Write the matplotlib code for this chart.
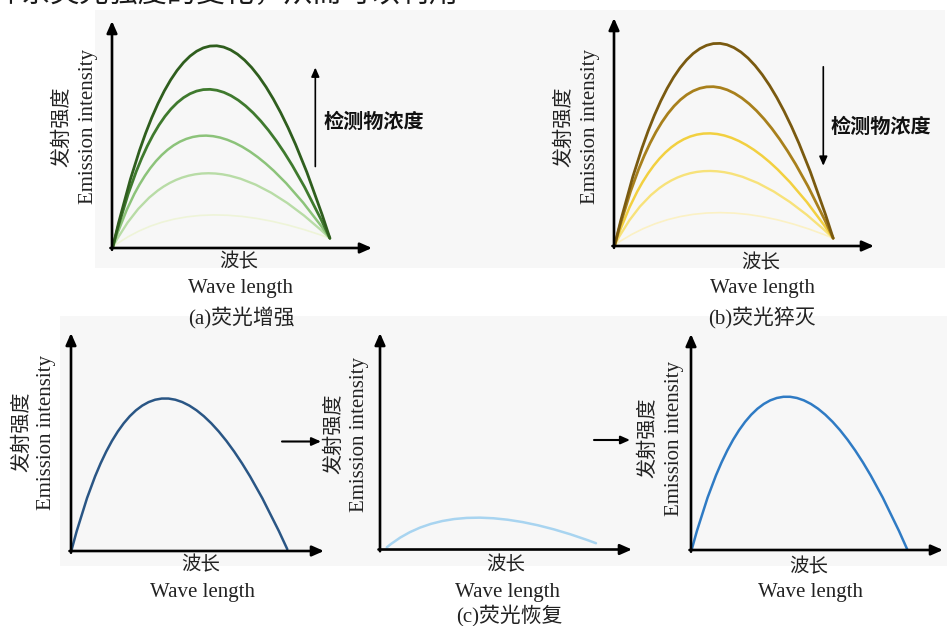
import matplotlib
matplotlib.use("Agg")
import matplotlib.pyplot as plt
from matplotlib.path import Path
from matplotlib.patches import PathPatch, Rectangle, FancyArrowPatch

# ---------------- data (normalised wavelength 0-100, intensity 0-100) ----------------
enh_peak_x = [39.0, 36.4, 34.9, 35.8, 36.4]
enh_peak_y = [89.1, 69.9, 49.5, 32.9, 14.5]
enh_start = (0.3, 0.5)
enh_end = (83.8, 4.3)

que_peak_x = [39.5, 36.9, 35.7, 35.7, 38.2]
que_peak_y = [88.9, 69.9, 49.4, 32.9, 14.6]
que_start = (0.3, 0.5)
que_end = (84.3, 3.4)

rec_peak_x = [37.2, 37.0, 38.0]
rec_peak_y = [70.0, 14.7, 71.0]
rec_start_x = [0.3, 2.7, 0.3]
rec_start_y = [0.8, 1.0, 0.3]
rec_end_x = [85.5, 85.7, 85.8]
rec_end_y = [0.8, 2.9, 0.3]

ylabel_cn = "发射强度"
ylabel_en = "Emission intensity"
xlabel_cn = "波长"
xlabel_en = "Wave length"
conc_label = "检测物浓度"
captions = ["(a)荧光增强", "(b)荧光猝灭", "(c)荧光恢复"]
top_text = "体系荧光强度的变化，从而可以利用"

# ---------------- styles ----------------
enh_colors = ["#2f5e1e", "#3f7a2e", "#8cc37a", "#b8dca6", "#eef4d8"]
que_colors = ["#7a5a10", "#a8801c", "#f2d040", "#f7e27a", "#fbf1c4"]
rec_colors = ["#2a5685", "#a8d4f0", "#2f7bc4"]
enh_lw = [2.0, 2.0, 1.8, 1.7, 1.2]

W, H = 947, 626
fig = plt.figure(figsize=(W / 100, H / 100), dpi=100)
fig.patch.set_facecolor("white")

SERIF = ["Liberation Serif", "Noto Sans CJK SC", "DejaVu Serif"]
CJK = ["Noto Sans CJK SC", "DejaVu Sans"]


def fpos(px, py):
    return px / W, 1 - py / H


def ftext(px, py, s, size, family, rot=0, weight="normal", color="#222222", ha="center", va="center"):
    x, y = fpos(px, py)
    fig.text(x, y, s, fontsize=size, family=family, rotation=rot, weight=weight,
             color=color, ha=ha, va=va, zorder=5)


# background bands
for (x0, y0, x1, y1) in [(95, 10, 945, 268), (60, 316, 947, 566)]:
    r = Rectangle(fpos(x0, y1), (x1 - x0) / W, (y1 - y0) / H,
                  transform=fig.transFigure, facecolor="#f7f7f7",
                  edgecolor="none", zorder=-10)
    fig.add_artist(r)

ax_arrow = dict(arrowstyle="-|>,head_length=0.5,head_width=0.22", lw=1.9, color="black",
                shrinkA=0, shrinkB=0, mutation_scale=14)
small_arrow = dict(arrowstyle="-|>,head_length=0.45,head_width=0.2", lw=1.2,
                   color="black", shrinkA=0, shrinkB=0, mutation_scale=12)


def panel(ox, oy, xt, yt):
    ax = fig.add_axes([ox / W, 1 - oy / H, (xt - ox) / W, (oy - yt) / H])
    ax.set_zorder(2)
    ax.set_xlim(0, 100)
    ax.set_ylim(0, 100)
    ax.axis("off")
    ax.annotate("", xy=(1, 0), xytext=(-0.006, 0), xycoords="axes fraction",
                arrowprops=ax_arrow, annotation_clip=False)
    ax.annotate("", xy=(0, 1), xytext=(0, -0.008), xycoords="axes fraction",
                arrowprops=ax_arrow, annotation_clip=False)
    return ax


def curve(ax, start, peak, end, color, lw):
    x0, y0 = start
    x1, y1 = end
    cx = (4 * peak[0] - x0 - x1) / 2
    cy = (4 * peak[1] - y0 - y1) / 2
    p = Path([(x0, y0), (cx, cy), (x1, y1)], [Path.MOVETO, Path.CURVE3, Path.CURVE3])
    ax.add_patch(PathPatch(p, fill=False, edgecolor=color, lw=lw, capstyle="round",
                           clip_on=False))


def labels(ycn_x, yen_x, yc, xc, xcn_y, xen_y):
    ftext(ycn_x, yc, ylabel_cn, 14.5, CJK, rot=90)
    ftext(yen_x, yc, ylabel_en, 15, SERIF, rot=90)
    ftext(xc, xcn_y, xlabel_cn, 14, CJK)
    ftext(xc + 1, xen_y, xlabel_en, 15, SERIF)


# top cropped text (cut off at the top edge as in the source)
ftext(-8, -6, top_text, 21, CJK, ha="left", color="#1a1a1a")

# ---------------- (a) enhancement ----------------
axa = panel(112, 248, 372, 21)
for i in range(len(enh_peak_x))[::-1]:
    curve(axa, enh_start, (enh_peak_x[i], enh_peak_y[i]), enh_end, enh_colors[i], enh_lw[i])
axa.annotate("", xy=(78.2, 79.5), xytext=(78.2, 35.9), xycoords="data",
             arrowprops=small_arrow, annotation_clip=False)
axa.text(81.4, 55.6, conc_label, fontsize=14.5, family=CJK, weight="bold",
         ha="left", va="center", color="#111111")
labels(62, 88.5, 127, 239, 262, 289)
ftext(241, 318, captions[0], 15, SERIF)

# ---------------- (b) quenching ----------------
axb = panel(614, 246, 874, 18)
for i in range(len(que_peak_x))[::-1]:
    curve(axb, que_start, (que_peak_x[i], que_peak_y[i]), que_end, que_colors[i], enh_lw[i])
axb.annotate("", xy=(80.5, 35.2), xytext=(80.5, 78.6), xycoords="data",
             arrowprops=small_arrow, annotation_clip=False)
axb.text(83.1, 52.3, conc_label, fontsize=14.5, family=CJK, weight="bold",
         ha="left", va="center", color="#111111")
labels(564, 590, 127, 761, 263, 288)
ftext(762, 318, captions[1], 15, SERIF)

# ---------------- (c) recovery ----------------
axes_c = [panel(71, 551, 324, 333), panel(380, 549.5, 632, 333), panel(691, 550, 943, 334)]
for i, ax in enumerate(axes_c):
    curve(ax, (rec_start_x[i], rec_start_y[i]), (rec_peak_x[i], rec_peak_y[i]),
          (rec_end_x[i], rec_end_y[i]), rec_colors[i], 1.8)

labels(22, 46, 432, 201, 565, 592)
labels(334, 359, 434, 506, 565, 592)
labels(648, 674, 438, 809, 567, 593)
ftext(509, 616, captions[2], 15, SERIF)

# arrows between the recovery panels
for (x0, x1, yy) in [(282, 321, 441.5), (594, 630, 440)]:
    fig.add_artist(FancyArrowPatch(
        fpos(x0, yy), fpos(x1, yy), transform=fig.transFigure,
        arrowstyle="-|>,head_length=0.45,head_width=0.2", lw=1.5, color="black",
        mutation_scale=12, shrinkA=0, shrinkB=0, zorder=5))

fig.savefig("out.png", dpi=100, facecolor="white")
